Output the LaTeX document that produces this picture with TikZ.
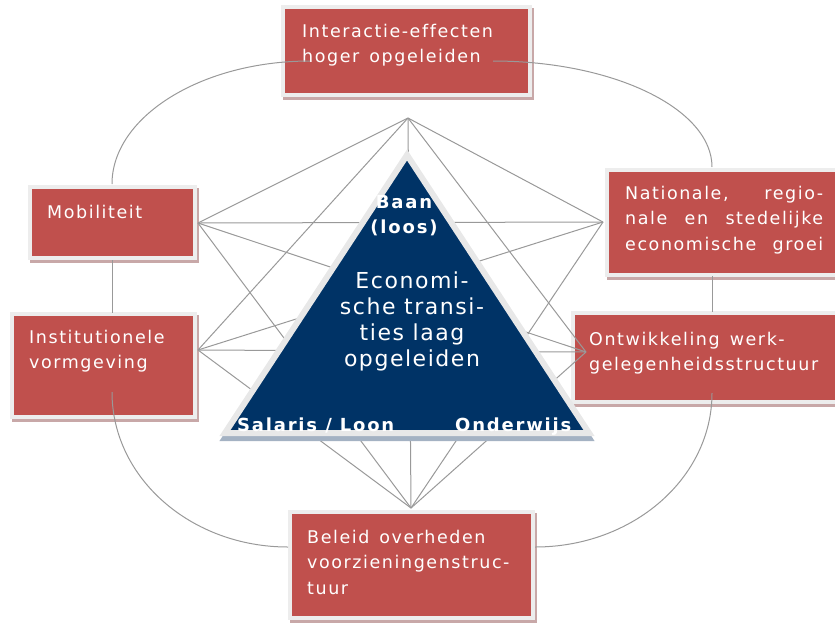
\documentclass[tikz,border=0pt]{standalone}
\usepackage{fontspec}
\newfontfamily\boxfont[LetterSpace=9,WordSpace=1.4,Ligatures=NoCommon]{DejaVu Sans}
\newfontfamily\trifont[LetterSpace=7,Ligatures=NoCommon]{DejaVu Sans}
\newfontfamily\triboldfont[LetterSpace=10,Ligatures=NoCommon]{DejaVu Sans}
\definecolor{boxred}{HTML}{C0504D}
\definecolor{navy}{HTML}{003366}
\definecolor{framec}{HTML}{EDEDED}
\definecolor{boxshadow}{HTML}{C8A8A8}
\definecolor{wirec}{HTML}{999999}
\definecolor{trishadow}{HTML}{A4B2C3}
\definecolor{triframe}{HTML}{E8E8E8}
\begin{document}
\begin{tikzpicture}[x=1pt,y=-1pt,
  box/.style={rectangle, inner sep=0pt, fill=boxred, draw=framec, line width=4pt,
    preaction={draw=boxshadow, fill=boxshadow, line width=4pt,
      transform canvas={xshift=2pt,yshift=-3pt}}},
  wire/.style={draw=wirec, line width=1pt},
  boxtext/.style={anchor=base west, inner sep=0pt, text=white,
    font=\boxfont\fontsize{17.5}{25.5}\selectfont},
  tribold/.style={inner sep=0pt, text=white,
    font=\triboldfont\bfseries\fontsize{18}{25}\selectfont},
  trireg/.style={inner sep=0pt, text=white,
    font=\trifont\fontsize{22}{26.3}\selectfont},
  trishape/.style={fill=navy, draw=triframe, line width=6pt, line join=miter},
  trishadowstyle/.style={fill=trishadow, draw=trishadow, line width=6pt, line join=miter}]
\useasboundingbox (0,0) rectangle (835,625);
\clip (0,0) rectangle (835,625);

% boxes
\node[box, minimum width=247, minimum height=88] (tbox) at (406.5,51) {};
\node[box, minimum width=165, minimum height=71] (mbox) at (112.5,222.5) {};
\node[box, minimum width=183, minimum height=103] (ibox) at (103.5,365.5) {};
\node[box, minimum width=238, minimum height=105] (nbox) at (726,222.5) {};
\node[box, minimum width=272, minimum height=89] (obox) at (709,357.5) {};
\node[box, minimum width=243, minimum height=106] (bbox) at (411.5,565) {};

\node[boxtext] (ttext) at (302,37) {\parbox[t]{230pt}{\raggedright Interactie-effecten\\hoger opgeleiden}};
\node[boxtext] (mtext) at (47,218) {Mobiliteit};
\node[boxtext] (itext) at (29,343) {\parbox[t]{170pt}{\raggedright Institutionele\\vormgeving}};
\node[boxtext] (ntext) at (625,199) {\parbox[t]{198pt}{\makebox[198pt][s]{Nationale, regio-}\\\makebox[198pt][s]{nale en stedelijke}\\\makebox[198pt][s]{economische groei}}};
\node[boxtext] (otext) at (589,345) {\parbox[t]{250pt}{\raggedright Ontwikkeling werk-\\gelegenheidsstructuur}};
\node[boxtext] (btext) at (307,543) {\parbox[t]{225pt}{\raggedright Beleid overheden\\voorzieningenstruc-\\tuur}};

% hubs
\coordinate (T) at (408,118);
\coordinate (B) at (411,508);
\coordinate (M) at (198,223);
\coordinate (I) at (198,350);
\coordinate (N) at (603,222);
\coordinate (O) at (586,352);
% outer points
\coordinate (tl) at (310,61);
\coordinate (tr) at (493,61);
\coordinate (mtop) at (112,184);
\coordinate (mbot) at (112,260);
\coordinate (itop) at (112,313);
\coordinate (ibot) at (112,392);
\coordinate (ntop) at (712,167);
\coordinate (nbot) at (712,276);
\coordinate (otop) at (712,312);
\coordinate (obot) at (712,393);
\coordinate (bl) at (288,547);
\coordinate (br) at (535,547);

% inner network
\draw[wire] (T) -- (M);
\draw[wire] (T) -- (I);
\draw[wire] (T) -- (N);
\draw[wire] (T) -- (O);
\draw[wire] (T) -- (B);
\draw[wire] (M) -- (N);
\draw[wire] (M) -- (O);
\draw[wire] (M) -- (B);
\draw[wire] (I) -- (N);
\draw[wire] (I) -- (O);
\draw[wire] (I) -- (B);
\draw[wire] (N) -- (B);
\draw[wire] (O) -- (B);
% outer ring
\draw[wire] (mtop) .. controls +(0,-67) and +(-109,0) .. (tl);
\draw[wire] (tr) .. controls +(121,0) and +(0,-58) .. (ntop);
\draw[wire] (ibot) .. controls +(0,86) and +(-97,0) .. (bl);
\draw[wire] (br) .. controls +(98,0) and +(0,85) .. (obot);
\draw[wire] (mbot) -- (itop);
\draw[wire] (nbot) -- (otop);

% triangle
\path[trishadowstyle] (407,160) -- (225,438) -- (589,438) -- cycle;
\path[trishape] (407,155) -- (225,433) -- (589,433) -- cycle;
\node[tribold, anchor=base] (baan) at (404,208) {\parbox[t]{120pt}{\centering Baan\\(loos)}};
\node[trireg, anchor=base] (econ) at (412,288) {\parbox[t]{170pt}{\centering Economi-\\sche transi-\\ties laag\\opgeleiden}};
\node[tribold, anchor=base west] (salaris) at (237,431) {Salaris / Loon};
\node[tribold, anchor=base west] (onderwijs) at (455,431) {Onderwijs};
\end{tikzpicture}
\end{document}
